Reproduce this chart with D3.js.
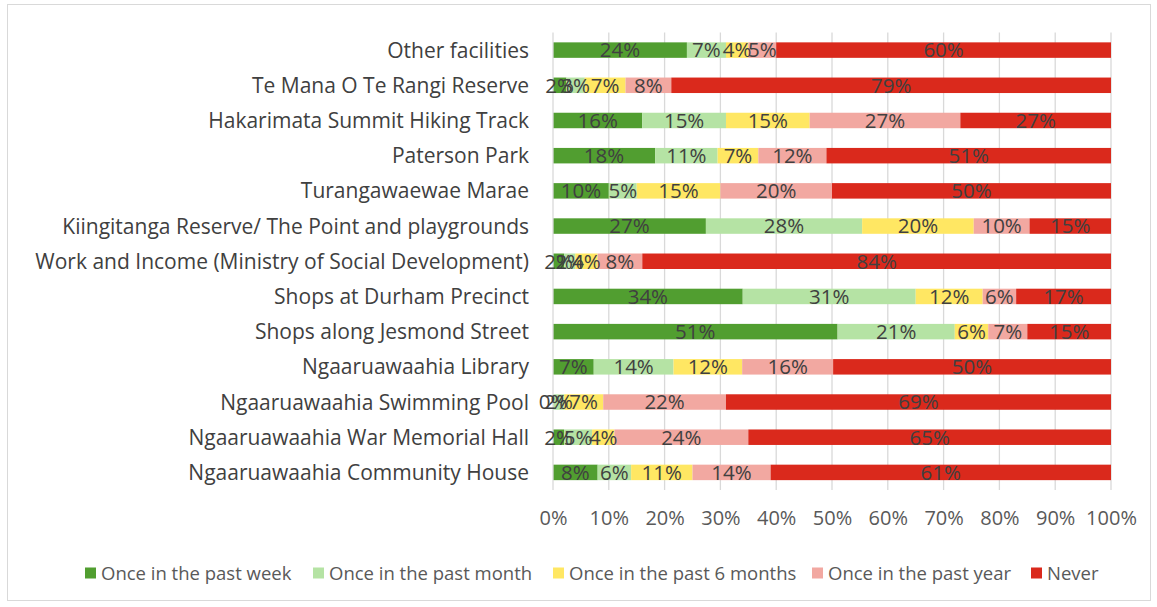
<!DOCTYPE html>
<head>
<meta charset="utf-8">
<script src="https://d3js.org/d3.v7.min.js"></script>
<style>
    body { margin: 0; background: #fff; }
    text { font-family: "Open Sans", "Noto Sans", sans-serif; }
</style>
</head>
<body>
<div id="container"></div>
<script>
    // categories, top to bottom
    var facilities = [
        'Other facilities',
        'Te Mana O Te Rangi Reserve',
        'Hakarimata Summit Hiking Track',
        'Paterson Park',
        'Turangawaewae Marae',
        'Kiingitanga Reserve/ The Point and playgrounds',
        'Work and Income (Ministry of Social Development)',
        'Shops at Durham Precinct',
        'Shops along Jesmond Street',
        'Ngaaruawaahia Library',
        'Ngaaruawaahia Swimming Pool',
        'Ngaaruawaahia War Memorial Hall',
        'Ngaaruawaahia Community House'
    ];
    var seriesNames = ['Once in the past week', 'Once in the past month', 'Once in the past 6 months', 'Once in the past year', 'Never'];
    var seriesColors = ['#519e30', '#b5e3a4', '#ffe763', '#f2a8a1', '#da291c'];

    // percentages per series, same order as facilities
    var pastWeek   = [24, 2.4, 16, 18.3, 10, 27.4, 2, 34, 51, 7.3, 0, 2, 8];
    var pastMonth  = [7, 3.3, 15, 11.2, 5, 28, 2, 31, 21, 14.3, 2, 5, 6];
    var past6Month = [4, 7.3, 15, 7.3, 15, 20, 4, 12, 6, 12.3, 7, 4, 11];
    var pastYear   = [5, 8.2, 27, 12.2, 20, 10, 8, 6, 7, 16.3, 22, 24, 14];
    var never      = [60, 78.8, 27, 51, 50, 14.6, 84, 17, 15, 49.8, 69, 65, 61];
    var tickValues = [0, 0.1, 0.2, 0.3, 0.4, 0.5, 0.6, 0.7, 0.8, 0.9, 1];

    var W = 1157, H = 607;
    var svg = d3.select('#container').append('svg').attr('width', W).attr('height', H);

    // chart frame
    svg.append('rect').attr('x', 7.5).attr('y', 4.5).attr('width', 1143).attr('height', 596)
        .attr('fill', '#fff').attr('stroke', '#d9d9d9').attr('stroke-width', 1);

    var plotLeft = 553, plotRight = 1111, plotTop = 32.5, plotBottom = 490;
    var x = d3.scaleLinear().domain([0, 1]).range([plotLeft, plotRight]);
    var y = d3.scaleBand().domain(facilities).range([plotTop, plotBottom]).paddingInner(0.56).paddingOuter(0.28);

    var rows = facilities.map(function(f, i) {
        var vals = [pastWeek[i], pastMonth[i], past6Month[i], pastYear[i], never[i]];
        var total = d3.sum(vals);
        var o = { name: f };
        seriesNames.forEach(function(s, j) { o[s] = vals[j] / total; o[s + '_raw'] = vals[j] / 100; });
        return o;
    });
    var stacked = d3.stack().keys(seriesNames)(rows);

    // gridlines
    svg.append('g').selectAll('line').data(tickValues.slice(1)).enter().append('line')
        .attr('x1', d => x(d)).attr('x2', d => x(d))
        .attr('y1', plotTop).attr('y2', plotBottom)
        .attr('stroke', '#d9d9d9').attr('stroke-width', 1.3);

    // bars
    var fmt = d3.format('.0%');
    stacked.forEach(function(layer, j) {
        var g = svg.append('g');
        g.selectAll('rect').data(layer).enter().append('rect')
            .attr('x', d => x(d[0]))
            .attr('y', d => y(d.data.name))
            .attr('width', d => x(d[1]) - x(d[0]))
            .attr('height', y.bandwidth())
            .attr('fill', seriesColors[j]);
    });

    // axis line
    svg.append('line').attr('x1', plotLeft).attr('x2', plotLeft).attr('y1', plotTop).attr('y2', plotBottom)
        .attr('stroke', '#d9d9d9').attr('stroke-width', 1.3);

    // data labels
    stacked.forEach(function(layer, j) {
        svg.append('g').selectAll('text').data(layer).enter().append('text')
            .attr('x', d => (x(d[0]) + x(d[1])) / 2)
            .attr('y', d => y(d.data.name) + y.bandwidth() / 2)
            .attr('dy', '0.36em')
            .attr('text-anchor', 'middle')
            .attr('font-size', 20.5)
            .attr('fill', '#404040')
            .text(d => fmt(d.data[seriesNames[j] + '_raw']));
    });

    // category labels
    svg.append('g').selectAll('text').data(facilities).enter().append('text')
        .attr('x', plotLeft - 24)
        .attr('y', d => y(d) + y.bandwidth() / 2)
        .attr('dy', '0.36em')
        .attr('text-anchor', 'end')
        .attr('font-size', 21)
        .attr('fill', '#404040')
        .text(d => d);

    // x axis
    var xAxis = d3.axisBottom(x).tickValues(tickValues).tickFormat(d3.format('.0%')).tickSize(0);
    var ax = svg.append('g').attr('transform', 'translate(0,' + (plotBottom + 18) + ')').call(xAxis);
    ax.select('.domain').remove();
    ax.selectAll('text').attr('font-size', 20).attr('fill', '#595959')
        .attr('font-family', '"Open Sans", sans-serif');

    // legend
    var legendX = [85, 313, 553, 812, 1031];
    var lg = svg.append('g');
    seriesNames.forEach(function(s, j) {
        var it = lg.append('g').attr('transform', 'translate(' + legendX[j] + ',573)');
        it.append('rect').attr('x', 0).attr('y', -5.5).attr('width', 11).attr('height', 11).attr('fill', seriesColors[j]);
        it.append('text').attr('x', 16).attr('y', 0).attr('dy', '0.36em')
            .attr('font-size', 18.5).attr('fill', '#595959').text(s);
    });
</script>
</body>
